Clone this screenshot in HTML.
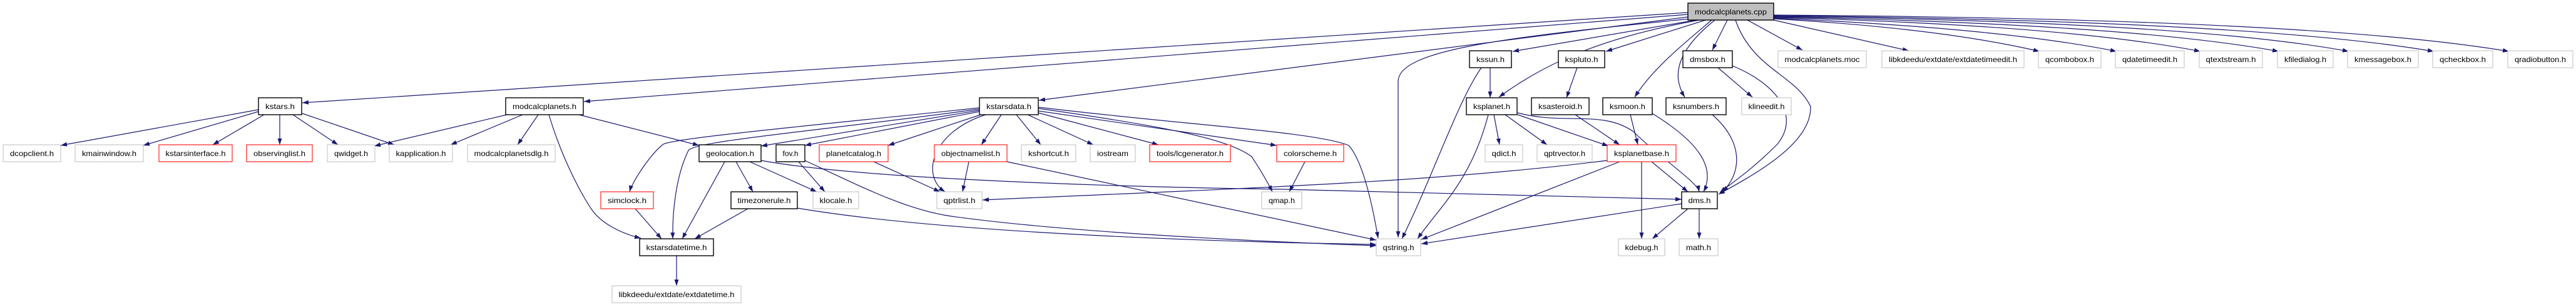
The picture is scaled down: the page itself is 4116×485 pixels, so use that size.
<!DOCTYPE html>
<html><head><meta charset="utf-8"><style>
html,body{margin:0;padding:0;background:#fff;}
svg{display:block;}
text{font-family:"Liberation Sans",sans-serif;font-size:12px;fill:#000;}
.e{fill:none;stroke:#191970;stroke-width:1.2;marker-end:url(#a);}
.g{fill:#fff;stroke:#c8c8c8;stroke-width:1.2;}
.b{fill:#fff;stroke:#000;stroke-width:1.4;}
.r{fill:#fff;stroke:#ff2020;stroke-width:1.2;}
.t{fill:#bfbfbf;stroke:#000;stroke-width:1.4;}
</style></head><body>
<svg width="4116" height="485" viewBox="0 0 4116 485" xmlns="http://www.w3.org/2000/svg">
<defs><marker id="a" markerUnits="userSpaceOnUse" markerWidth="11" markerHeight="8" refX="10" refY="3.5" orient="auto"><path d="M0,0 L10,3.5 L0,7 z" fill="#191970"/></marker></defs>
<g>
<path class="e" d="M2697,20 L483,164"/>
<path class="e" d="M2697,23 L933,162"/>
<path class="e" d="M2697,27 L1660,160"/>
<path class="e" d="M2700,30 C2400,60 2234,80 2234,130 L2234,379"/>
<path class="e" d="M2710,32 L2417,82"/>
<path class="e" d="M2715,32 C2560,60 2470,100 2395,155"/>
<path class="e" d="M2725,32 L2566,82"/>
<path class="e" d="M2735,32 C2690,70 2640,110 2612,155"/>
<path class="e" d="M2740,32 C2680,80 2670,120 2692,155"/>
<path class="e" d="M2760,32 L2736,80"/>
<path class="e" d="M2773,32 C2800,110 2870,120 2893,170 C2895,230 2800,280 2746,310"/>
<path class="e" d="M2768,105 C2830,130 2880,180 2840,230 C2800,270 2770,290 2748,307"/>
<path class="e" d="M2745,108 L2800,155"/>
<path class="e" d="M2792,32 L2880,80"/>
<path class="e" d="M2834,32 L3050,81"/>
<path class="e" d="M2834,30 Q3100,45 3259,82"/>
<path class="e" d="M2834,29 Q3200,45 3382,82"/>
<path class="e" d="M2834,28 Q3300,40 3516,82"/>
<path class="e" d="M2834,27 Q3400,38 3641,82"/>
<path class="e" d="M2834,26 Q3500,35 3753,82"/>
<path class="e" d="M2834,25 Q3600,33 3889,82"/>
<path class="e" d="M2834,24 Q3700,30 4009,82"/>
<path class="e" d="M413,175 L97,232"/>
<path class="e" d="M413,178 L229,232"/>
<path class="e" d="M422,183 L340,231"/>
<path class="e" d="M447,183 L447,231"/>
<path class="e" d="M468,183 L540,231"/>
<path class="e" d="M483,181 L630,231"/>
<path class="e" d="M810,183 L598,233"/>
<path class="e" d="M835,183 L720,231"/>
<path class="e" d="M860,183 L827,231"/>
<path class="e" d="M925,183 L1117,232"/>
<path class="e" d="M877,183 C900,260 935,320 946,335 C960,355 990,372 1024,380"/>
<path class="e" d="M1565,172 C1300,200 1080,220 1060,230 C1040,245 1010,290 1006,306"/>
<path class="e" d="M1565,174 C1300,210 1110,225 1100,240 C1080,280 1074,340 1075,381"/>
<path class="e" d="M1565,176 L1216,233"/>
<path class="e" d="M1565,178 L1286,232"/>
<path class="e" d="M1567,183 L1419,232"/>
<path class="e" d="M1575,183 C1490,210 1470,280 1510,306"/>
<path class="e" d="M1600,183 L1568,231"/>
<path class="e" d="M1624,183 L1663,231"/>
<path class="e" d="M1642,183 L1747,231"/>
<path class="e" d="M1659,180 L1851,231"/>
<path class="e" d="M1659,177 L2040,232"/>
<path class="e" d="M1659,173 C1850,200 1960,220 2000,250 C2020,280 2030,300 2033,306"/>
<path class="e" d="M1659,171 C1900,200 2100,210 2155,232 C2180,260 2195,340 2202,380"/>
<path class="e" d="M1176,258 L1203,306"/>
<path class="e" d="M1198,258 L1305,306"/>
<path class="e" d="M1158,258 L1090,381"/>
<path class="e" d="M1216,256 C1400,290 1900,300 2050,302 L2687,318"/>
<path class="e" d="M1276,258 L1318,306"/>
<path class="e" d="M1286,256 C1380,300 1450,335 1520,345 C1700,370 2000,385 2199,392"/>
<path class="e" d="M1396,258 L1502,306"/>
<path class="e" d="M1548,258 L1538,306"/>
<path class="e" d="M1609,258 L2199,383"/>
<path class="e" d="M1195,333 L1110,381"/>
<path class="e" d="M1274,332 C1500,370 1900,385 2199,390"/>
<path class="e" d="M1015,333 L1057,381"/>
<path class="e" d="M2085,258 L2060,306"/>
<path class="e" d="M2568,256 C2300,290 2000,300 1570,319"/>
<path class="e" d="M2588,258 L2271,382"/>
<path class="e" d="M2623,258 L2623,381"/>
<path class="e" d="M2639,258 L2697,306"/>
<path class="e" d="M2381,108 L2381,156"/>
<path class="e" d="M2367,108 C2330,160 2290,280 2240,381"/>
<path class="e" d="M2520,108 L2503,156"/>
<path class="e" d="M2387,183 L2396,231"/>
<path class="e" d="M2405,183 L2472,231"/>
<path class="e" d="M2425,183 L2570,233"/>
<path class="e" d="M2378,183 C2350,290 2300,330 2265,381"/>
<path class="e" d="M2425,180 C2500,200 2560,175 2610,210 C2650,250 2712,290 2715,306"/>
<path class="e" d="M2517,183 L2588,231"/>
<path class="e" d="M2605,183 L2617,231"/>
<path class="e" d="M2640,181 C2720,230 2740,270 2722,306"/>
<path class="e" d="M2736,183 C2790,230 2780,280 2752,306"/>
<path class="e" d="M2687,325 L2271,389"/>
<path class="e" d="M2697,333 L2640,381"/>
<path class="e" d="M2715,333 L2715,381"/>
<path class="e" d="M1081,408 L1081,456"/>
</g>
<g text-anchor="middle">
<!-- row1 -->
<rect class="t" x="2697" y="5" width="137" height="27"/><text x="2765.5" y="23" textLength="115" lengthAdjust="spacingAndGlyphs">modcalcplanets.cpp</text>
<!-- row2 -->
<rect class="b" x="2348" y="81" width="67" height="27"/><text x="2381.5" y="99" textLength="45" lengthAdjust="spacingAndGlyphs">kssun.h</text>
<rect class="b" x="2490" y="81" width="74" height="27"/><text x="2527" y="99" textLength="53" lengthAdjust="spacingAndGlyphs">kspluto.h</text>
<rect class="b" x="2689" y="81" width="79" height="27"/><text x="2728.5" y="99" textLength="57" lengthAdjust="spacingAndGlyphs">dmsbox.h</text>
<rect class="g" x="2841" y="81" width="141" height="27"/><text x="2911.5" y="99" textLength="120" lengthAdjust="spacingAndGlyphs">modcalcplanets.moc</text>
<rect class="g" x="3007" y="81" width="227" height="27"/><text x="3120.5" y="99" textLength="205" lengthAdjust="spacingAndGlyphs">libkdeedu/extdate/extdatetimeedit.h</text>
<rect class="g" x="3257" y="81" width="100" height="27"/><text x="3307" y="99" textLength="78" lengthAdjust="spacingAndGlyphs">qcombobox.h</text>
<rect class="g" x="3380" y="81" width="110" height="27"/><text x="3435" y="99" textLength="88" lengthAdjust="spacingAndGlyphs">qdatetimeedit.h</text>
<rect class="g" x="3514" y="81" width="101" height="27"/><text x="3564.5" y="99" textLength="80" lengthAdjust="spacingAndGlyphs">qtextstream.h</text>
<rect class="g" x="3639" y="81" width="89" height="27"/><text x="3683.5" y="99" textLength="67" lengthAdjust="spacingAndGlyphs">kfiledialog.h</text>
<rect class="g" x="3751" y="81" width="113" height="27"/><text x="3807.5" y="99" textLength="91" lengthAdjust="spacingAndGlyphs">kmessagebox.h</text>
<rect class="g" x="3887" y="81" width="96" height="27"/><text x="3935" y="99" textLength="74" lengthAdjust="spacingAndGlyphs">qcheckbox.h</text>
<rect class="g" x="4007" y="81" width="104" height="27"/><text x="4059" y="99" textLength="82" lengthAdjust="spacingAndGlyphs">qradiobutton.h</text>
<!-- row3 -->
<rect class="b" x="413" y="156" width="69" height="27"/><text x="447.5" y="174" textLength="47" lengthAdjust="spacingAndGlyphs">kstars.h</text>
<rect class="b" x="808" y="156" width="124" height="27"/><text x="870" y="174" textLength="102" lengthAdjust="spacingAndGlyphs">modcalcplanets.h</text>
<rect class="b" x="1565" y="156" width="94" height="27"/><text x="1612" y="174" textLength="72" lengthAdjust="spacingAndGlyphs">kstarsdata.h</text>
<rect class="b" x="2343" y="156" width="81" height="27"/><text x="2383.5" y="174" textLength="59" lengthAdjust="spacingAndGlyphs">ksplanet.h</text>
<rect class="b" x="2447" y="156" width="92" height="27"/><text x="2493" y="174" textLength="70" lengthAdjust="spacingAndGlyphs">ksasteroid.h</text>
<rect class="b" x="2561" y="156" width="79" height="27"/><text x="2600.5" y="174" textLength="57" lengthAdjust="spacingAndGlyphs">ksmoon.h</text>
<rect class="b" x="2662" y="156" width="96" height="27"/><text x="2710" y="174" textLength="74" lengthAdjust="spacingAndGlyphs">ksnumbers.h</text>
<rect class="g" x="2783" y="156" width="79" height="27"/><text x="2822.5" y="174" textLength="58" lengthAdjust="spacingAndGlyphs">klineedit.h</text>
<!-- row4 -->
<rect class="g" x="5" y="231" width="92" height="27"/><text x="51" y="249" textLength="70" lengthAdjust="spacingAndGlyphs">dcopclient.h</text>
<rect class="g" x="120" y="231" width="109" height="27"/><text x="174.5" y="249" textLength="87" lengthAdjust="spacingAndGlyphs">kmainwindow.h</text>
<rect class="r" x="254" y="231" width="117" height="27"/><text x="312.5" y="249" textLength="96" lengthAdjust="spacingAndGlyphs">kstarsinterface.h</text>
<rect class="r" x="394" y="231" width="105" height="27"/><text x="446.5" y="249" textLength="83" lengthAdjust="spacingAndGlyphs">observinglist.h</text>
<rect class="g" x="523" y="231" width="76" height="27"/><text x="561" y="249" textLength="54" lengthAdjust="spacingAndGlyphs">qwidget.h</text>
<rect class="g" x="622" y="231" width="101" height="27"/><text x="672.5" y="249" textLength="80" lengthAdjust="spacingAndGlyphs">kapplication.h</text>
<rect class="g" x="747" y="231" width="140" height="27"/><text x="817" y="249" textLength="119" lengthAdjust="spacingAndGlyphs">modcalcplanetsdlg.h</text>
<rect class="b" x="1117" y="231" width="99" height="27"/><text x="1166.5" y="249" textLength="77" lengthAdjust="spacingAndGlyphs">geolocation.h</text>
<rect class="b" x="1240" y="231" width="46" height="27"/><text x="1263" y="249" textLength="25" lengthAdjust="spacingAndGlyphs">fov.h</text>
<rect class="r" x="1309" y="231" width="110" height="27"/><text x="1364" y="249" textLength="88" lengthAdjust="spacingAndGlyphs">planetcatalog.h</text>
<rect class="r" x="1493" y="231" width="116" height="27"/><text x="1551" y="249" textLength="94" lengthAdjust="spacingAndGlyphs">objectnamelist.h</text>
<rect class="g" x="1632" y="231" width="87" height="27"/><text x="1675.5" y="249" textLength="65" lengthAdjust="spacingAndGlyphs">kshortcut.h</text>
<rect class="g" x="1742" y="231" width="72" height="27"/><text x="1778" y="249" textLength="50" lengthAdjust="spacingAndGlyphs">iostream</text>
<rect class="r" x="1837" y="231" width="129" height="27"/><text x="1901.5" y="249" textLength="107" lengthAdjust="spacingAndGlyphs">tools/lcgenerator.h</text>
<rect class="r" x="2040" y="231" width="107" height="27"/><text x="2093.5" y="249" textLength="85" lengthAdjust="spacingAndGlyphs">colorscheme.h</text>
<rect class="g" x="2373" y="231" width="60" height="27"/><text x="2403" y="249" textLength="39" lengthAdjust="spacingAndGlyphs">qdict.h</text>
<rect class="g" x="2456" y="231" width="88" height="27"/><text x="2500" y="249" textLength="66" lengthAdjust="spacingAndGlyphs">qptrvector.h</text>
<rect class="r" x="2568" y="231" width="110" height="27"/><text x="2623" y="249" textLength="88" lengthAdjust="spacingAndGlyphs">ksplanetbase.h</text>
<!-- row5 -->
<rect class="r" x="960" y="306" width="84" height="27"/><text x="1002" y="324" textLength="62" lengthAdjust="spacingAndGlyphs">simclock.h</text>
<rect class="b" x="1168" y="306" width="106" height="27"/><text x="1221" y="324" textLength="85" lengthAdjust="spacingAndGlyphs">timezonerule.h</text>
<rect class="g" x="1299" y="306" width="73" height="27"/><text x="1335.5" y="324" textLength="52" lengthAdjust="spacingAndGlyphs">klocale.h</text>
<rect class="g" x="1497" y="306" width="72" height="27"/><text x="1533" y="324" textLength="51" lengthAdjust="spacingAndGlyphs">qptrlist.h</text>
<rect class="g" x="2016" y="306" width="64" height="27"/><text x="2048" y="324" textLength="42" lengthAdjust="spacingAndGlyphs">qmap.h</text>
<rect class="b" x="2687" y="306" width="57" height="27"/><text x="2715.5" y="324" textLength="36" lengthAdjust="spacingAndGlyphs">dms.h</text>
<!-- row6 -->
<rect class="b" x="1022" y="381" width="118" height="27"/><text x="1081" y="399" textLength="97" lengthAdjust="spacingAndGlyphs">kstarsdatetime.h</text>
<rect class="g" x="2199" y="381" width="71" height="27"/><text x="2234.5" y="399" textLength="50" lengthAdjust="spacingAndGlyphs">qstring.h</text>
<rect class="g" x="2586" y="381" width="74" height="27"/><text x="2623" y="399" textLength="53" lengthAdjust="spacingAndGlyphs">kdebug.h</text>
<rect class="g" x="2683" y="381" width="62" height="27"/><text x="2714" y="399" textLength="40" lengthAdjust="spacingAndGlyphs">math.h</text>
<!-- row7 -->
<rect class="g" x="978" y="456" width="206" height="27"/><text x="1081" y="474" textLength="185" lengthAdjust="spacingAndGlyphs">libkdeedu/extdate/extdatetime.h</text>
</g>
</svg>
</body></html>
